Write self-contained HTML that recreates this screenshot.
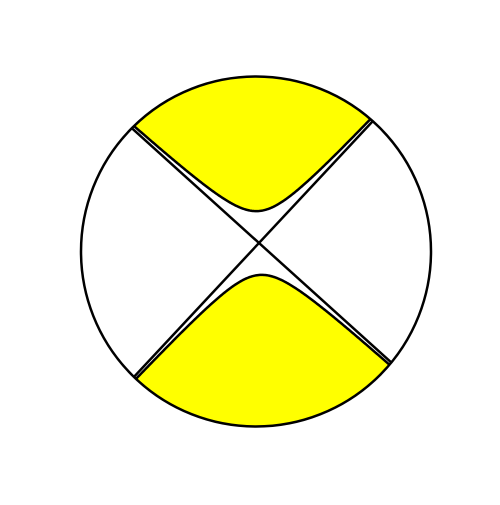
<!DOCTYPE html>
<html><head><meta charset="utf-8"><style>html,body{margin:0;padding:0;background:#fff}</style></head>
<body>
<svg id="fig" width="500" height="500" viewBox="0 0 500 500" xmlns="http://www.w3.org/2000/svg">
<defs><clipPath id="cc"><circle cx="256" cy="251.5" r="175"/></clipPath></defs>
<g id="fills" clip-path="url(#cc)"></g>
<g id="curves" clip-path="url(#cc)"></g>
<circle cx="256" cy="251.5" r="175" fill="none" stroke="#000" stroke-width="2.5"/>
</svg>
<script>
const center = [259, 243];
const lineSlopes = [0.903, -1.071];
const vertexGap = [32, 32];
const ns = "http://www.w3.org/2000/svg";
const fills = document.getElementById('fills');
const curves = document.getElementById('curves');
const fig = document.getElementById('fig');
function lineY(i, x) { return center[1] + lineSlopes[i] * (x - center[0]); }
[-1, 1].forEach((s, i) => {
  const c = vertexGap[i] ** 2;
  let pts = [];
  for (let x = 70; x <= 440; x += 1) {
    const a = lineY(0, x), b = lineY(1, x);
    const y = (a + b) / 2 + s * Math.sqrt(((a - b) / 2) ** 2 + c);
    pts.push(x + ',' + y.toFixed(2));
  }
  const edge = s < 0 ? 0 : 500;
  const poly = document.createElementNS(ns, 'polygon');
  
  
  poly.setAttribute('points', '70,' + edge + ' ' + pts.join(' ') + ' 440,' + edge);
  poly.setAttribute('fill', '#ffff00');
  fills.appendChild(poly);
  const pl = document.createElementNS(ns, 'polyline');
  
  
  pl.setAttribute('points', pts.join(' '));
  pl.setAttribute('fill', 'none');
  pl.setAttribute('stroke', '#000');
  pl.setAttribute('stroke-width', '2.5');
  curves.appendChild(pl);
});
[0, 1].forEach(i => {
  const ln = document.createElementNS(ns, 'line');
  
  
  ln.setAttribute('x1', 60); ln.setAttribute('y1', lineY(i, 60));
  ln.setAttribute('x2', 450); ln.setAttribute('y2', lineY(i, 450));
  ln.setAttribute('stroke', '#000');
  ln.setAttribute('stroke-width', '2.5');
  curves.appendChild(ln);
});
</script>
</body></html>
